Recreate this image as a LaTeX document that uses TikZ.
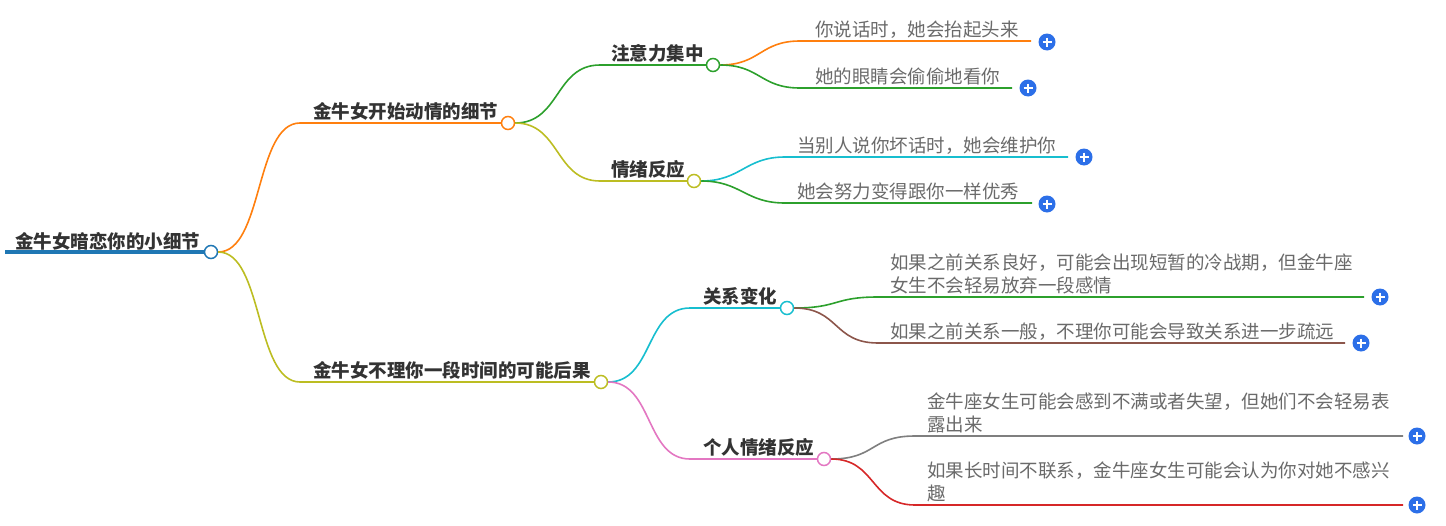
\documentclass[tikz,border=0pt]{standalone}
\usepackage{fontspec}
\setmainfont{Noto Sans CJK SC}
\usetikzlibrary{calc}
\definecolor{cblue}{HTML}{1F77B4}
\definecolor{corange}{HTML}{FF7F0E}
\definecolor{cgreen}{HTML}{2CA02C}
\definecolor{colive}{HTML}{BCBD22}
\definecolor{ccyan}{HTML}{17BECF}
\definecolor{cbrown}{HTML}{8C564B}
\definecolor{cpink}{HTML}{E377C2}
\definecolor{cgray}{HTML}{7F7F7F}
\definecolor{cred}{HTML}{D62728}
\definecolor{pblue}{HTML}{2C6FE8}
\definecolor{hdr}{HTML}{333333}
\definecolor{lf}{HTML}{6A6A6A}
\begin{document}
\begin{tikzpicture}[x=1pt,y=-1pt,
  dot/.style={circle, draw=#1, fill=white, line width=1.5pt, minimum size=13pt, inner sep=0pt},
  lab/.style={anchor=south west, inner sep=0pt, text depth=0pt, align=left},
  head/.style={lab, font=\fontsize{18.5}{23}\selectfont\bfseries, text=hdr},
  leaf/.style={lab, font=\fontsize{18.5}{23}\selectfont, text=lf},
  conn/.style={line width=1.6pt, draw=#1},
  plusbtn/.style={circle, fill=pblue, minimum size=17pt, inner sep=0pt,
    path picture={\draw[white, line width=1.7pt]
      ($(path picture bounding box.center)+(-4.5,0)$) -- ($(path picture bounding box.center)+(4.5,0)$)
      ($(path picture bounding box.center)+(0,-4.5)$) -- ($(path picture bounding box.center)+(0,4.5)$);}}
]
\useasboundingbox (0,0) rectangle (1446,525);

% root
\coordinate (r0) at (5,252);
\node[dot=cblue] (rc) at (211,252) {};
\draw[cblue, line width=4pt] (r0) -- (rc.west);
\node[head] (rt) at (15,249) {金牛女暗恋你的小细节};

% branch 1
\coordinate (b1s) at (300,123);
\node[dot=corange] (b1c) at (508,123) {};
\draw[conn=corange] (rc.east) .. controls +(45,0) and +(-45,0) .. (b1s) -- (b1c.west);
\node[head] (b1t) at (313,119) {金牛女开始动情的细节};

% branch 2
\coordinate (b2s) at (300,382);
\node[dot=colive] (b2c) at (601,382) {};
\draw[conn=colive] (rc.east) .. controls +(45,0) and +(-45,0) .. (b2s) -- (b2c.west);
\node[head] (b2t) at (313,378) {金牛女不理你一段时间的可能后果};

% sub 1.1
\coordinate (s11s) at (600,65);
\node[dot=cgreen] (s11c) at (713,65) {};
\draw[conn=cgreen] (b1c.east) .. controls +(45,0) and +(-45,0) .. (s11s) -- (s11c.west);
\node[head] (s11t) at (611,61) {注意力集中};

% sub 1.2
\coordinate (s12s) at (600,181);
\node[dot=colive] (s12c) at (694,181) {};
\draw[conn=colive] (b1c.east) .. controls +(45,0) and +(-45,0) .. (s12s) -- (s12c.west);
\node[head] (s12t) at (611,177) {情绪反应};

% sub 2.1
\coordinate (s21s) at (690,308);
\node[dot=ccyan] (s21c) at (787,308) {};
\draw[conn=ccyan] (b2c.east) .. controls +(45,0) and +(-45,0) .. (s21s) -- (s21c.west);
\node[head] (s21t) at (703,304) {关系变化};

% sub 2.2
\coordinate (s22s) at (690,459);
\node[dot=cpink] (s22c) at (824,459) {};
\draw[conn=cpink] (b2c.east) .. controls +(45,0) and +(-45,0) .. (s22s) -- (s22c.west);
\node[head] (s22t) at (703,455) {个人情绪反应};

% leaves of 1.1
\coordinate (l1s) at (800,41); \coordinate (l1e) at (1031,41);
\draw[conn=corange] (s11c.east) .. controls +(40,0) and +(-40,0) .. (l1s) -- (l1e);
\node[leaf] (l1t) at (815,37) {你说话时，她会抬起头来};
\node[plusbtn] (l1p) at (1047,42) {};

\coordinate (l2s) at (800,88); \coordinate (l2e) at (1012,88);
\draw[conn=cgreen] (s11c.east) .. controls +(40,0) and +(-40,0) .. (l2s) -- (l2e);
\node[leaf] (l2t) at (815,84) {她的眼睛会偷偷地看你};
\node[plusbtn] (l2p) at (1028,88) {};

% leaves of 1.2
\coordinate (l3s) at (785,157); \coordinate (l3e) at (1068,157);
\draw[conn=ccyan] (s12c.east) .. controls +(40,0) and +(-40,0) .. (l3s) -- (l3e);
\node[leaf] (l3t) at (797,153) {当别人说你坏话时，她会维护你};
\node[plusbtn] (l3p) at (1084,157) {};

\coordinate (l4s) at (785,203); \coordinate (l4e) at (1032,203);
\draw[conn=cgreen] (s12c.east) .. controls +(40,0) and +(-40,0) .. (l4s) -- (l4e);
\node[leaf] (l4t) at (797,199) {她会努力变得跟你一样优秀};
\node[plusbtn] (l4p) at (1047,204) {};

% leaves of 2.1
\coordinate (l5s) at (878,297); \coordinate (l5e) at (1364,297);
\draw[conn=cgreen] (s21c.east) .. controls +(45,0) and +(-45,0) .. (l5s) -- (l5e);
\node[leaf] (l5t) at (890,293) {如果之前关系良好，可能会出现短暂的冷战期，但金牛座\\女生不会轻易放弃一段感情};
\node[plusbtn] (l5p) at (1380,297) {};

\coordinate (l6s) at (878,343); \coordinate (l6e) at (1345,343);
\draw[conn=cbrown] (s21c.east) .. controls +(45,0) and +(-45,0) .. (l6s) -- (l6e);
\node[leaf] (l6t) at (890,339) {如果之前关系一般，不理你可能会导致关系进一步疏远};
\node[plusbtn] (l6p) at (1361,343) {};

% leaves of 2.2
\coordinate (l7s) at (915,436); \coordinate (l7e) at (1403,436);
\draw[conn=cgray] (s22c.east) .. controls +(45,0) and +(-45,0) .. (l7s) -- (l7e);
\node[leaf] (l7t) at (927,432) {金牛座女生可能会感到不满或者失望，但她们不会轻易表\\露出来};
\node[plusbtn] (l7p) at (1417,436) {};

\coordinate (l8s) at (915,505); \coordinate (l8e) at (1403,505);
\draw[conn=cred] (s22c.east) .. controls +(45,0) and +(-45,0) .. (l8s) -- (l8e);
\node[leaf] (l8t) at (927,501) {如果长时间不联系，金牛座女生可能会认为你对她不感兴\\趣};
\node[plusbtn] (l8p) at (1417,505) {};
\end{tikzpicture}
\end{document}
